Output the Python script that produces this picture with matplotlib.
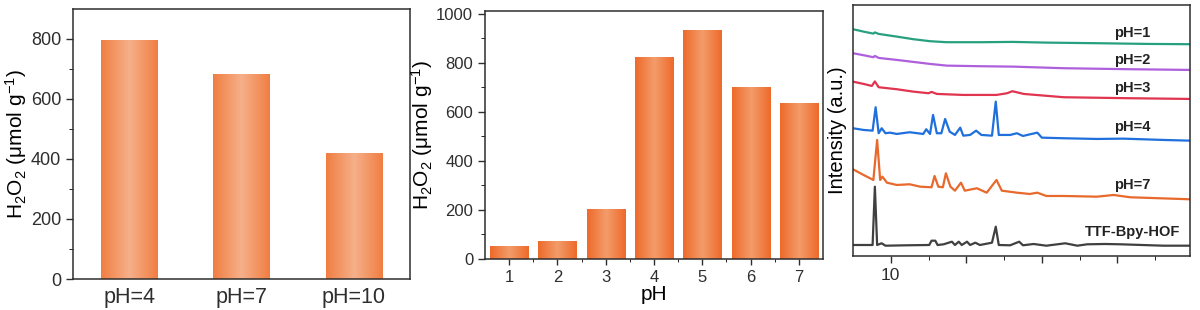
import numpy as np
import matplotlib
matplotlib.use("Agg")
import matplotlib.pyplot as plt
from matplotlib.colors import LinearSegmentedColormap

plt.rcParams['font.family'] = ['Liberation Sans', 'DejaVu Sans']
plt.rcParams['mathtext.fontset'] = 'custom'
plt.rcParams['mathtext.rm'] = 'Liberation Sans'
plt.rcParams['mathtext.it'] = 'Liberation Sans:italic'

# panel a: three pH values
ph_a = ['pH=4', 'pH=7', 'pH=10']
h2o2_a = [797, 683, 420]

# panel b: pH 1..7
ph_b = [1, 2, 3, 4, 5, 6, 7]
h2o2_b = [54, 75, 205, 823, 935, 702, 636]

# panel c: PXRD traces (2theta, intensity in a.u.)
tt_ph1 = [5.0, 6.4, 7.7, 7.9, 8.4, 10.8, 13.0, 15.2, 17.4, 21.8, 26.2, 30.6, 37.3, 43.9, 49.6]
in_ph1 = [226.7, 224.3, 222.3, 223.5, 222, 219.3, 216.7, 214.7, 213.7, 213.7, 214, 213.3, 212.7, 212, 211.7]

tt_ph2 = [5.0, 6.4, 7.7, 7.9, 8.4, 10.8, 15.2, 17.4, 21.8, 26.2, 32.9, 41.7, 49.6]
in_ph2 = [202.7, 200.7, 198.7, 200, 198, 196, 192, 190.3, 189.7, 189.3, 187.7, 186.7, 186]

tt_ph3 = [5.0, 6.4, 7.5, 7.9, 8.4, 10.8, 13.0, 15.0, 15.4, 16.1, 19.6, 24.0, 25.4, 26.1, 27.6, 32.9, 41.7, 49.6]
in_ph3 = [174.3, 172, 170, 174.5, 168.7, 166.7, 164.3, 162.7, 164, 162, 161, 161, 162.7, 164.7, 162, 158.7, 157.7, 157]

tt_ph4 = [5.0, 6.4, 7.6, 8.0, 8.4, 8.8, 9.3, 9.9, 10.8, 12.5, 14.3, 14.7, 15.2, 15.6, 16.1, 16.7,
          17.2, 17.8, 18.5, 19.2, 19.6, 20.5, 21.3, 22.0, 23.4, 23.9, 24.3, 25.8, 26.7, 27.5, 29.4,
          30.0, 32.9, 37.3, 40.8, 46.1, 49.6]
in_ph4 = [127.7, 126, 125.3, 148.7, 122.7, 127.7, 122.7, 123.3, 122, 123.7, 122, 126.7, 122, 141, 122.7, 122.7,
          137, 124.3, 121, 128.3, 120.3, 121, 125.3, 121, 120.3, 154.3, 121, 121, 122.7, 120, 123.3,
          118.3, 117.7, 117, 117.3, 116, 115.3]

tt_ph7 = [5.0, 6.4, 7.7, 8.2, 8.6, 8.9, 9.5, 10.8, 12.5, 13.9, 15.4, 15.8, 16.3, 16.9, 17.3, 17.9,
          18.5, 19.3, 19.8, 21.4, 22.7, 24.0, 24.7, 26.7, 28.4, 29.4, 30.6, 32.9, 37.3, 39.5, 41.7, 49.6]
in_ph7 = [86.7, 81, 76, 116, 76, 79.3, 73.3, 71, 71.7, 69.3, 68.7, 80, 69.3, 68.7, 82.7, 69.3,
          65.3, 73.3, 65.3, 67.7, 63.3, 76, 65.3, 63.3, 62, 63.3, 60, 60, 59.3, 61, 58.7, 56.7]

tt_hof = [5.0, 7.6, 7.9, 8.2, 8.8, 9.3, 12.1, 15.1, 15.4, 15.9, 16.2, 17.0, 18.1, 18.5, 19.0, 19.4,
          20.1, 20.5, 21.2, 21.8, 23.4, 23.9, 24.3, 25.8, 27.0, 27.5, 28.9, 30.6, 33.1, 34.7, 36.0,
          38.4, 40.4, 46.1, 49.6]
in_hof = [11, 11, 69.3, 11, 12.7, 10.3, 10.7, 11, 15.3, 15.3, 11, 11.7, 14.3, 11, 14.3, 11,
          14.3, 11, 13.3, 11, 13.3, 29.3, 11, 10.7, 14.3, 10.7, 12, 10.3, 12.7, 10.3, 11.7,
          12, 11.7, 10.3, 10.3]

traces = [
    (tt_ph1, in_ph1, '#27a07f', 'pH=1', 223),
    (tt_ph2, in_ph2, '#ae5fdc', 'pH=2', 196),
    (tt_ph3, in_ph3, '#e0344f', 'pH=3', 167.7),
    (tt_ph4, in_ph4, '#1f70dc', 'pH=4', 129.3),
    (tt_ph7, in_ph7, '#e8692c', 'pH=7', 71),
    (tt_hof, in_hof, '#404040', 'TTF-Bpy-HOF', 24.3),
]

spine_c = '#2e2e2e'


def gradient_bars(ax, bars, edge, mid):
    cmap = LinearSegmentedColormap.from_list('g', [edge, mid, edge])
    grad = np.linspace(0, 1, 256).reshape(1, -1)
    for b in bars:
        x, y = b.get_x(), b.get_y()
        w, h = b.get_width(), b.get_height()
        im = ax.imshow(grad, cmap=cmap, aspect='auto', extent=[x, x + w, y, y + h],
                       interpolation='bicubic', zorder=2)
        im.set_clip_path(b)
        b.set_facecolor('none')


def style(ax):
    for s in ax.spines.values():
        s.set_color(spine_c)
        s.set_linewidth(1.1)
    ax.tick_params(colors=spine_c, direction='out', width=1.0)
    ax.tick_params(axis='y', which='major', length=5)
    ax.tick_params(axis='y', which='minor', length=3)


fig = plt.figure(figsize=(12, 3.1), dpi=100)

# ---- panel a
ax1 = fig.add_axes([0.0608, 0.1, 0.2808, 0.871])
x1 = np.arange(len(ph_a))
bars1 = ax1.bar(x1, h2o2_a, width=0.5, color='#f08a52', zorder=2)
gradient_bars(ax1, bars1, '#f07e42', '#f6b08a')
ax1.set_xlim(-0.5, 2.5)
ax1.set_ylim(0, 900)
ax1.set_yticks([0, 200, 400, 600, 800])
ax1.set_yticks([100, 300, 500, 700], minor=True)
ax1.set_xticks(x1)
ax1.set_xticklabels(ph_a, fontsize=15.5)
ax1.tick_params(axis='x', length=0, pad=6)
style(ax1)
ax1.tick_params(axis='y', labelsize=13)
ax1.set_ylabel('H$_2$O$_2$ (μmol g$^{-1}$)', fontsize=15, labelpad=1)

# ---- panel b
ax2 = fig.add_axes([0.4042, 0.1645, 0.2817, 0.8], )
bars2 = ax2.bar(ph_b, h2o2_b, width=0.79, color='#ee7436', zorder=2)
gradient_bars(ax2, bars2, '#ee6a2a', '#f39c6a')
ax2.set_xlim(0.5, 7.5)
ax2.set_ylim(0, 1012)
ax2.set_yticks([0, 200, 400, 600, 800, 1000])
ax2.set_yticks([100, 300, 500, 700, 900], minor=True)
ax2.set_xticks(ph_b)
ax2.set_xticks([1.5, 2.5, 3.5, 4.5, 5.5, 6.5], minor=True)
style(ax2)
ax2.tick_params(axis='x', which='major', length=4, pad=4)
ax2.tick_params(axis='x', which='minor', length=2.5)
ax2.tick_params(labelsize=12)
ax2.set_xlabel('pH', fontsize=15, labelpad=0)
ax2.set_ylabel('H$_2$O$_2$ (μmol g$^{-1}$)', fontsize=15, labelpad=1)

# ---- panel c
ax3 = fig.add_axes([0.7108, 0.1742, 0.2808, 0.81])
for tt, inten, c, lab, ly in traces:
    ax3.plot(tt, inten, color=c, lw=1.6, solid_joinstyle='round')
    ax3.text(42.0, ly, lab, color='#222222', fontsize=10.5, fontweight='bold',
             ha='center', va='center')
ax3.set_xlim(5, 49.6)
ax3.set_ylim(0, 251)
ax3.set_yticks([])
ax3.set_xticks([10, 20, 30, 40])
ax3.set_xticklabels(['10', '', '', ''])
ax3.set_xticks([15, 25, 35, 45], minor=True)
style(ax3)
ax3.tick_params(axis='x', which='major', length=5, labelsize=12.5, pad=4)
ax3.tick_params(axis='x', which='minor', length=3)
ax3.set_ylabel('Intensity (a.u.)', fontsize=14.5, labelpad=4)

fig.savefig('out.png', dpi=100)
